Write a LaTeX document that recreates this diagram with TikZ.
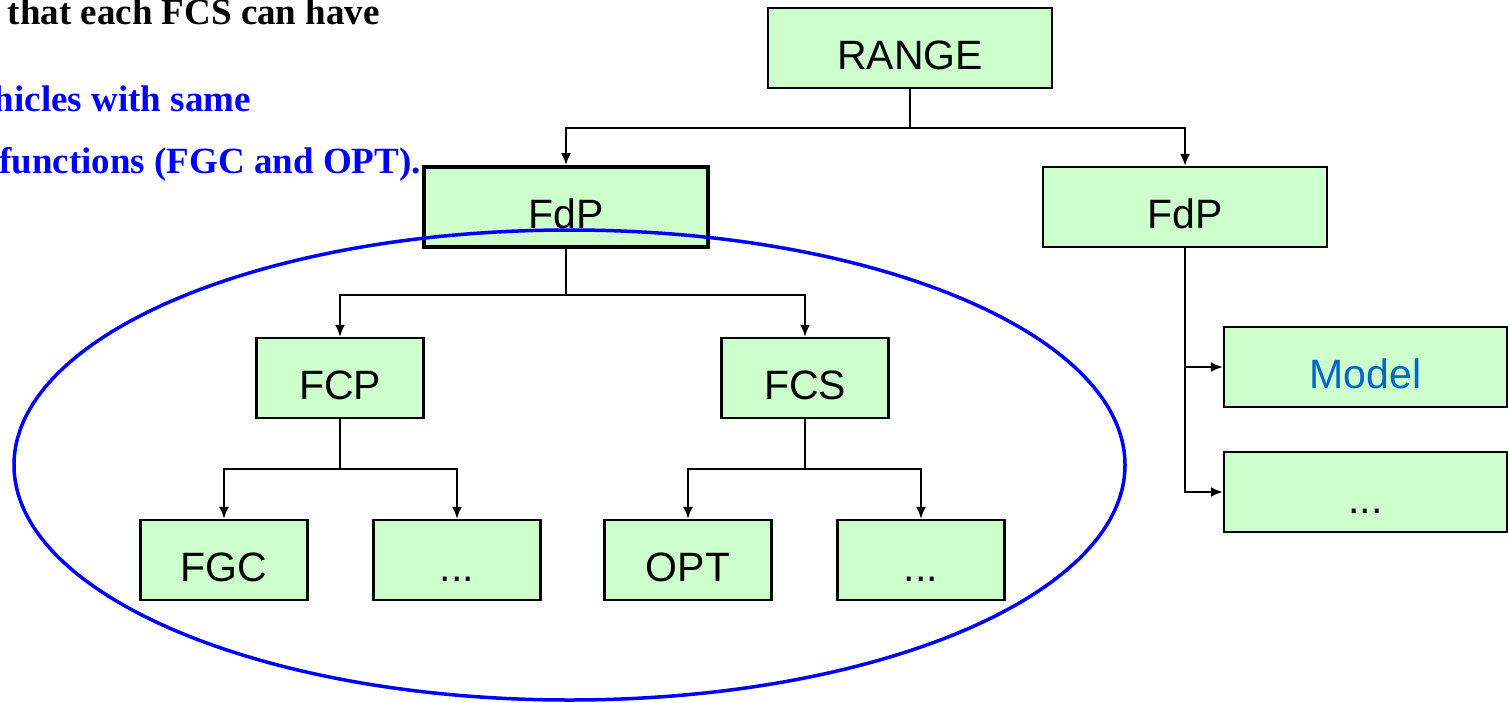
\documentclass[tikz,border=0pt]{standalone}
\usepackage{fontspec}
\setmainfont{Liberation Serif}
\newfontfamily\boxfont{Liberation Sans}
\usetikzlibrary{arrows.meta}
\definecolor{boxgreen}{RGB}{204,255,204}
\definecolor{modelblue}{RGB}{0,102,204}
\begin{document}
\begin{tikzpicture}[x=1pt,y=-1pt,
  treebox/.style={draw=black, line width=2.2pt, fill=boxgreen, minimum width=284pt, minimum height=80pt,
    inner sep=0pt, font=\boxfont\fontsize{41}{50}\selectfont, text height=42pt, text depth=0pt},
  smallbox/.style={treebox, minimum width=167pt},
  arr/.style={draw=black, line width=2.2pt, -{Latex[length=12pt,width=10pt]}},
  note/.style={anchor=base east, inner sep=0pt, font=\bfseries\fontsize{37}{44}\selectfont}
]
\useasboundingbox (0,0) rectangle (1508,702);
\clip (0,0) rectangle (1508,702);
% nodes
\node[treebox] (range) at (910,48) {RANGE};
\node[treebox, line width=4pt] (fdpL) at (566,207) {FdP};
\node[treebox] (fdpR) at (1185,207) {FdP};
\node[smallbox] (fcp) at (340,378) {FCP};
\node[smallbox] (fcs) at (805,378) {FCS};
\node[smallbox] (fgc) at (224,560) {FGC};
\node[smallbox] (dotsA) at (457,560) {...};
\node[smallbox] (opt) at (688,560) {OPT};
\node[smallbox] (dotsB) at (921,560) {...};
\node[treebox, minimum width=283pt, text=modelblue] (model) at (1365.5,367) {Model};
\node[treebox, minimum width=283pt] (dotsC) at (1365.5,492) {...};
% connectors
\draw[arr] (range.south) -- ++(0,39) -| (fdpL.north);
\draw[arr] (range.south) -- ++(0,39) -| (fdpR.north);
\draw[arr] (fdpL.south) -- ++(0,46) -| (fcp.north);
\draw[arr] (fdpL.south) -- ++(0,46) -| (fcs.north);
\draw[arr] (fcp.south) -- ++(0,50) -| (fgc.north);
\draw[arr] (fcp.south) -- ++(0,50) -| (dotsA.north);
\draw[arr] (fcs.south) -- ++(0,50) -| (opt.north);
\draw[arr] (fcs.south) -- ++(0,50) -| (dotsB.north);
\draw[arr] (fdpR.south) |- (model.west);
\draw[arr] (fdpR.south) |- (dotsC.west);
% ellipse
\draw[blue, line width=3.5pt] (569.5,465) ellipse [x radius=555.5, y radius=235];
% notes
\node[note] (t1) at (380,24) {that each FCS can have};
\node[note, text=blue] (t2) at (251,111) {hicles with same};
\node[note, text=blue] (t3) at (421,173) {functions (FGC and OPT).};
\end{tikzpicture}
\end{document}
